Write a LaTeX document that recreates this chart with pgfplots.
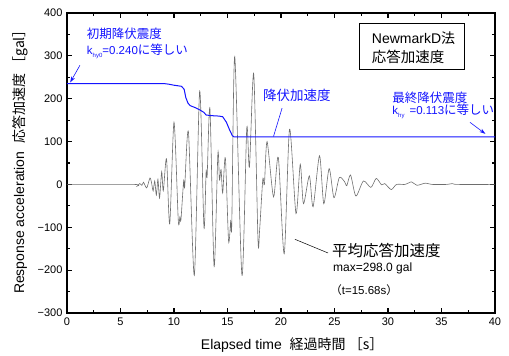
\documentclass[border=0pt]{standalone}
\usepackage{fontspec}
\setmainfont{Liberation Sans}
\newfontfamily\jp{Noto Sans CJK JP}
\usepackage{pgfplots}
\pgfplotsset{compat=1.18}
\usetikzlibrary{arrows.meta}
\definecolor{yblue}{RGB}{20,20,255}
\definecolor{sig}{RGB}{110,110,110}
\newcommand{\fs}[1]{\fontsize{#1}{#1}\selectfont}
\begin{document}
\begin{tikzpicture}
\path[use as bounding box] (-67pt,-43pt) rectangle (442pt,313pt);
\begin{axis}[
  at={(0,0)}, anchor=south west,
  scale only axis, width=428pt, height=300pt,
  xmin=0, xmax=40, ymin=-300, ymax=400,
  xtick={0,5,10,15,20,25,30,35,40}, minor x tick num=1,
  ytick={-300,-200,-100,0,100,200,300}, minor y tick num=1,
  extra y ticks={350},
  yticklabel={\pgfmathtruncatemacro\av{abs(\tick)}\ifdim\tick pt<0pt −\fi\av},
  extra y tick labels={},
  xticklabels={0,5,10,15,20,25,30,35,40},
  tick align=inside, major tick length=5pt, minor tick length=3pt,
  axis line style={line width=1.3pt},
  every tick/.style={black, line width=1.1pt},
  extra y tick style={major tick length=3pt},
  tick label style={font=\fs{11}},
  xticklabel style={yshift=-1pt},
  yticklabel style={xshift=-1pt},
  /pgf/number format/assume math mode=true,
  every axis x label/.style={at={(axis description cs:0.526,-0.1067)}, anchor=center},
  every axis y label/.style={at={(axis description cs:-0.1098,0.515)}, rotate=90, anchor=center},
  xlabel={\fs{14}Elapsed time\ \ {\jp 経過時間\ ［s］}},
  ylabel={\fs{14}Response acceleration\ \ {\jp 応答加速度\ ［gal］}},
  clip=false,
]
% mean response acceleration
\addplot[sig, line width=0.6pt, smooth, tension=0.45] coordinates {
(0,0)(6.3,0)(6.55,-4)(6.8,2)(7.0,-2)(7.15,5)(7.45,-8)(7.75,15)(7.9,4)(8.05,-15)
(8.2,8)(8.35,-25)(8.5,12)(8.65,-32)(8.85,30)(9.0,-15)(9.3,60)(9.6,-92)(10.0,145)
(10.4,-84)(10.55,-76)(10.65,-82)(10.9,8)(11.0,-5)(11.35,122)(11.9,-212)(12.4,218)
(12.8,-100)(13.0,30)(13.1,20)(13.36,176)(13.75,-192)(14.1,72)(14.25,10)(14.4,35)
(14.55,-20)(14.8,62)(15.1,-132)(15.3,-85)(15.4,-92)(15.68,298)(16.35,-212)(16.8,131)
(17.05,40)(17.45,258)(17.85,-130)(18.0,-107)(18.3,12)(18.45,0)(18.7,100)(19.3,-29)
(19.75,63)(20.3,-162)(20.8,129)(21.4,-68)(21.8,47)(22.1,-45)(22.65,20)(23.0,-52)
(23.6,67)(24.0,-45)(24.5,37)(24.95,-31)(25.45,16)(25.95,6)(26.15,-3)(26.5,22)
(27.0,-27)(27.7,8)(28.4,-7)(28.9,14)(29.4,-1)(29.7,2)(30.3,-12)(30.8,0)(31.6,0)
(32.2,6)(32.7,-2)(33.5,3)(34.1,0)(35.5,0)(36.0,2)(36.5,0)(40,0)
};
% yield acceleration
\addplot[yblue, line width=1pt] coordinates {
(0,235.5)(9.0,235.5)(9.5,234)(10.0,231.5)(10.7,229)(10.95,222)(11.1,203)(11.3,190)
(11.5,184)(12.0,179)(12.4,174)(12.8,168)(13.0,162)(13.5,160.5)(14.2,159.5)(14.55,158)
(14.9,145)(15.2,127)(15.45,114)(15.6,111)(40,111)
};
% top y tick label
\node[anchor=east, inner sep=0.333em, xshift=-1pt, font=\fs{11}] at (rel axis cs:0,1) {400};
% annotations
\node[anchor=west, text=yblue, inner sep=0pt] at (axis cs:1.85,351) {\jp\fs{12.5}初期降伏震度};
\node[anchor=west, text=yblue, inner sep=0pt] at (axis cs:1.85,310) {\fs{11.5}k\raisebox{-2.5pt}{\fs{6}hy0}=0.240{\jp\fs{12.5}に等しい}};
\draw[yblue, line width=0.6pt, -{Stealth[length=6pt,width=4pt]}] (axis cs:1.21,278) -- (axis cs:0.3,238);
\node[anchor=west, text=yblue, inner sep=0pt] at (axis cs:18.3,208) {\jp\fs{13.5}降伏加速度};
\draw[yblue, line width=0.6pt] (axis cs:20.1,178) -- (axis cs:19.3,112);
\node[anchor=west, text=yblue, inner sep=0pt] at (axis cs:30.4,203) {\jp\fs{12.5}最終降伏震度};
\node[anchor=west, text=yblue, inner sep=0pt] at (axis cs:30.4,170) {\fs{11.5}k\raisebox{-2.5pt}{\fs{6}hy}\hspace{5pt}=0.113{\jp\fs{12.5}に等しい}};
\draw[yblue, line width=0.6pt, -{Stealth[length=6pt,width=4pt]}] (axis cs:37.66,145) -- (axis cs:39.1,118);
\node[anchor=west, inner sep=0pt] at (axis cs:24.77,-154) {\jp\fs{15.5}平均応答加速度};
\node[anchor=west, inner sep=0pt] at (axis cs:24.86,-196) {\fs{12}max=298.0 gal};
\node[anchor=west, inner sep=0pt] at (axis cs:24.6,-247) {\fs{11.5}{\jp （}t=15.68s{\jp ）}};
\draw[black, line width=0.5pt] (axis cs:21.3,-128) -- (axis cs:24.4,-160);
\draw[black, line width=0.6pt, fill=white] (axis cs:27.29,376.4) rectangle (axis cs:37.10,269.1);
\node[anchor=west, inner sep=0pt] at (axis cs:28.48,341) {\fs{14}NewmarkD{\jp 法}};
\node[anchor=west, inner sep=0pt] at (axis cs:28.48,297) {\jp\fs{14.5}応答加速度};
\end{axis}
\end{tikzpicture}
\end{document}
